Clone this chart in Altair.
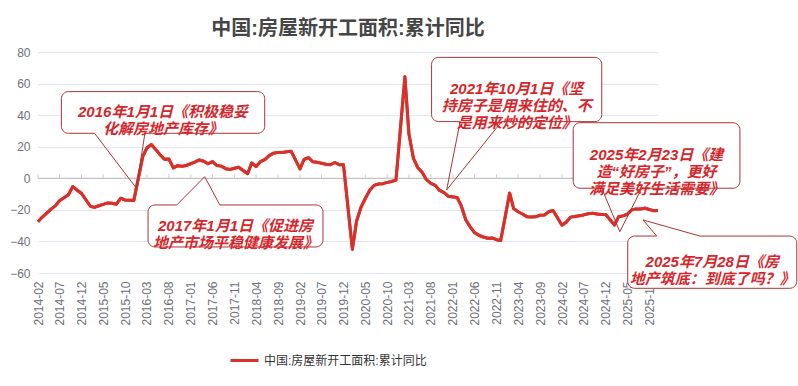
import altair as alt
import pandas as pd

SERIES = "中国:房屋新开工面积:累计同比"
RED = "#d9302a"
BOX_STROKE = "#a93535"
TEXT_RED = "#d7262b"
FONT = "Liberation Sans, Noto Sans CJK SC"

# cumulative YoY (%) by month; January is not published (None), Jan-Feb shown at Feb
y2014 = [-27.5, -24.7, -22.2, -19.7, -17.5, -14.2, -12.3, -10.4, -5.3, -7.6, -9.5]  # Feb..Dec
y2015 = [None, -17.7, -18.4, -17.4, -16.5, -15.6, -15.8, -16.4, -12.6, -13.8, -13.9, -14.0]
y2016 = [None, 13.7, 19.2, 21.4, 18.3, 14.9, 12.1, 12.2, 6.6, 8.0, 7.6, 8.1]
y2017 = [None, 10.4, 11.6, 10.8, 9.2, 10.6, 8.1, 7.7, 6.1, 5.6, 6.4, 7.0]
y2018 = [None, 2.9, 9.7, 7.5, 10.5, 11.8, 14.4, 15.9, 16.4, 16.3, 16.8, 17.2]
y2019 = [None, 6.0, 11.9, 13.1, 10.5, 10.1, 9.5, 8.9, 8.6, 10.0, 8.6, 8.5]
y2020 = [None, -44.9, -27.2, -18.4, -12.8, -7.6, -4.5, -3.6, -3.4, -2.6, -2.0, -1.2]
y2021 = [None, 64.3, 28.2, 12.8, 6.9, 3.8, -0.9, -3.2, -4.5, -7.7, -9.1, -11.4]
y2022 = [None, -12.2, -17.5, -26.3, -30.6, -34.4, -36.1, -37.2, -38.0, -37.8, -38.9, -39.4]
y2023 = [None, -9.4, -19.2, -21.2, -22.6, -24.3, -24.5, -24.4, -23.4, -23.2, -21.2, -20.4]
y2024 = [None, -29.7, -27.8, -24.6, -24.2, -23.7, -23.2, -22.5, -22.2, -22.6, -23.0, -23.0]
y2025 = [None, -29.6, -24.4, -23.8, -22.8, -20.0, -19.4, -19.5, -18.9, -19.8, -20.5, -20.4]

values = (y2014 + y2015 + y2016 + y2017 + y2018 + y2019 + y2020 + y2021
          + y2022 + y2023 + y2024 + y2025)
months = pd.date_range("2014-02-01", "2025-12-01", freq="MS")
assert len(months) == len(values)

df = pd.DataFrame({
    "date": months.strftime("%Y-%m-%dT00:00:00"),
    "value": values,
    "series": SERIES,
}).dropna()

label_months = months[::5]
tick_values = [alt.DateTime(year=int(d.year), month=int(d.month), date=1) for d in label_months]
y_ticks = [-60, -40, -20, 0, 20, 40, 60, 80]

x_scale = alt.Scale(domain=[alt.DateTime(year=2014, month=2, date=1),
                            alt.DateTime(year=2025, month=12, date=1)])
y_scale = alt.Scale(domain=[-60, 80], nice=False)

x_axis = alt.Axis(values=tick_values, format="%Y-%m", labelAngle=-90,
                  labelPadding=8, ticks=False, domain=False, grid=False,
                  labelColor="#6E7079", labelFontSize=12, title=None,
                  labelOverlap=False)
y_axis = alt.Axis(values=y_ticks, grid=True, gridColor="#E0E6F1", domain=False,
                  ticks=False, labelPadding=8, labelColor="#6E7079",
                  labelFontSize=12, title=None, labelOverlap=False)

def X(field):
    return alt.X(field, scale=x_scale, axis=x_axis)

def Y(field):
    return alt.Y(field, scale=y_scale, axis=y_axis)

# annotations: box (x0, x1, y_top, y_bottom), pointer base edge y, base x's, tip (x, y)
annotations = [
    dict(text="2016年1月1日《积极稳妥\n化解房地产库存》",
         box=("2014-07-14", "2018-05-31", 54.9, 28.5), edge=28.5,
         base=("2015-03-02", "2016-02-16"), tip=("2015-12-19", -6.3)),
    dict(text="2017年1月1日《促进房\n地产市场平稳健康发展》",
         box=("2016-03-09", "2019-07-11", -16.9, -43.5), edge=-16.9,
         base=("2016-09-25", "2017-07-22"), tip=("2017-04-08", 1.0)),
    dict(text="2021年10月1日《坚\n持房子是用来住的、不\n是用来炒的定位》",
         box=("2021-08-06", "2024-11-04", 76.6, 35.9), edge=35.9,
         base=("2022-02-21", "2022-12-07"), tip=("2021-11-19", -7.4)),
    dict(text="2025年2月23日《建\n造“好房子”，更好\n满足美好生活需要》",
         box=("2024-04-19", "2027-06-25", 35.2, -6.3), edge=-6.3,
         base=("2024-11-04", "2025-08-10"), tip=("2025-03-10", -33.8)),
    dict(text="2025年7月28日《房\n地产筑底：到底了吗？》",
         box=("2025-05-04", "2028-07-25", -36.6, -69.7), edge=-36.6,
         base=("2025-11-22", "2026-09-19"), tip=("2025-08-19", -26.4)),
]

def ts(s):
    return pd.Timestamp(s)

def iso(t):
    return t.strftime("%Y-%m-%dT%H:%M:%S")

box_rows, gap_rows, leg_rows, text_rows = [], [], [], []
for a in annotations:
    x0, x1, yt, yb = a["box"]
    box_rows.append({"x0": iso(ts(x0)), "x1": iso(ts(x1)), "y0": yt, "y1": yb})
    b0, b1 = a["base"]
    gap_rows.append({"x0": iso(ts(b0)), "x1": iso(ts(b1)), "y": a["edge"]})
    tx, ty = a["tip"]
    for b in (b0, b1):
        leg_rows.append({"x0": iso(ts(b)), "y0": a["edge"], "x1": iso(ts(tx)), "y1": ty})
    mid = ts(x0) + (ts(x1) - ts(x0)) / 2
    text_rows.append({"x": iso(mid), "y": (yt + yb) / 2, "text": a["text"]})

boxes = pd.DataFrame(box_rows)
gaps = pd.DataFrame(gap_rows)
legs = pd.DataFrame(leg_rows)
texts = pd.DataFrame(text_rows)

zero_df = pd.DataFrame({"y": [0]})
tick_df = pd.DataFrame({"date": label_months.strftime("%Y-%m-%dT00:00:00"), "y": 0})

# zero axis line across the whole plot width
zero_line = alt.Chart(zero_df).mark_rule(color="#bbbbbb", strokeWidth=1).encode(
    y=Y("y:Q"))

# small upward ticks on the zero line at each labelled month
zero_ticks = alt.Chart(tick_df).mark_tick(
    color="#bbbbbb", thickness=1, size=4, orient="vertical", yOffset=-2).encode(
    x=X("date:T"), y=Y("y:Q"))

base_line = alt.Chart(df).mark_line(strokeWidth=3, strokeJoin="round").encode(
    x=X("date:T"),
    y=Y("value:Q"),
    color=alt.Color("series:N", scale=alt.Scale(domain=[SERIES], range=[RED]),
                    legend=alt.Legend(orient="none", legendX=191, legendY=293, title=None,
                                      symbolType="stroke", symbolSize=784,
                                      symbolStrokeWidth=3, labelFontSize=12,
                                      labelColor="#333333", padding=0, labelOffset=4,
                                      labelLimit=400)),
)

box_layer = alt.Chart(boxes).mark_rect(fill="white", stroke=BOX_STROKE, strokeWidth=1,
                                       cornerRadius=7).encode(
    x=X("x0:T"), x2="x1:T", y=Y("y0:Q"), y2="y1:Q")

gap_layer = alt.Chart(gaps).mark_rule(color="white", strokeWidth=2).encode(
    x=X("x0:T"), x2="x1:T", y=Y("y:Q"))

leg_layer = alt.Chart(legs).mark_rule(color=BOX_STROKE, strokeWidth=1).encode(
    x=X("x0:T"), x2="x1:T", y=Y("y0:Q"), y2="y1:Q")

text_layer = alt.Chart(texts).mark_text(
    lineBreak="\n", fontSize=15, fontStyle="italic", fontWeight="bold",
    color=TEXT_RED, align="center", baseline="middle", lineHeight=17).encode(
    x=X("x:T"), y=Y("y:Q"), text="text:N")

chart = alt.layer(
    base_line, zero_line, zero_ticks, base_line,
    box_layer, gap_layer, leg_layer, text_layer
).properties(
    width=620, height=221,
    title=alt.Title(SERIES, fontSize=20, fontWeight="bold", color="#464646",
                    anchor="middle", offset=7),
    padding={"left": 38, "top": 52, "right": 140, "bottom": 113},
    autosize=alt.AutoSizeParams(type="none"),
    view=alt.ViewBackground(stroke="transparent", strokeWidth=0),
).configure(
    font=FONT,
    view=alt.ViewConfig(stroke="transparent", strokeWidth=0),
    axis=alt.AxisConfig(domain=False),
)

chart.save("out.html", embed_options={"renderer": "svg", "actions": False})
